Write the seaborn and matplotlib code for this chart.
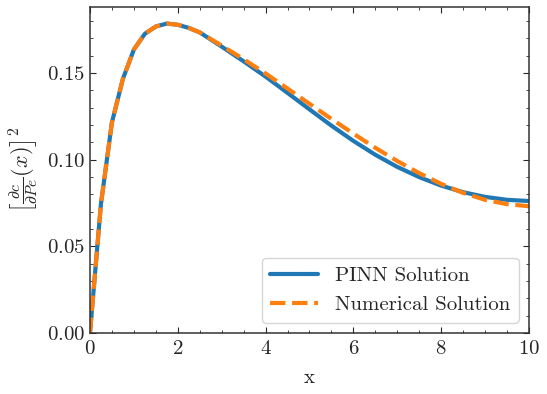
import numpy as np
import pandas as pd
import seaborn as sns
import matplotlib
matplotlib.use("Agg")
import matplotlib.pyplot as plt
from matplotlib.ticker import MultipleLocator

x = [0, 0.25, 0.5, 0.75, 1.0, 1.25, 1.5, 1.75, 2.0, 2.25, 2.5, 3.0, 3.5,
     4.0, 4.5, 5.0, 5.5, 6.0, 6.5, 7.0, 7.5, 8.0, 8.5, 9.0, 9.5, 10.0]
pinn = [0.0, 0.0745, 0.1215, 0.1466, 0.1635, 0.1726, 0.1768, 0.1785, 0.1778,
        0.1760, 0.1734, 0.1652, 0.1567, 0.1479, 0.1385, 0.1290, 0.1196,
        0.1108, 0.1028, 0.0958, 0.0899, 0.0850, 0.0812, 0.0785, 0.0768, 0.0761]
numerical = [0.0, 0.0745, 0.1215, 0.1466, 0.1635, 0.1726, 0.1768, 0.1785, 0.1778,
             0.1760, 0.1734, 0.1658, 0.1579, 0.1497, 0.1410, 0.1322, 0.1235,
             0.1150, 0.1068, 0.0992, 0.0922, 0.0860, 0.0808, 0.0768, 0.0743, 0.0731]

df = pd.DataFrame({"x": x, "PINN Solution": pinn, "Numerical Solution": numerical})

sns.set_style("ticks")
plt.rcParams.update({
    "font.family": "serif",
    "font.serif": ["cmr10"],
    "mathtext.fontset": "cm",
    "axes.formatter.use_mathtext": True,
    "axes.unicode_minus": False,
    "font.size": 15,
    "xtick.direction": "in",
    "ytick.direction": "in",
    "xtick.top": True,
    "ytick.right": True,
    "xtick.minor.visible": True,
    "ytick.minor.visible": True,
    "xtick.major.size": 4.5,
    "ytick.major.size": 4.5,
    "xtick.minor.size": 2.5,
    "ytick.minor.size": 2.5,
    "xtick.major.pad": 5,
    "axes.linewidth": 1.1,
    "axes.edgecolor": "#333333",
})

fig = plt.figure(figsize=(5.47, 3.94), dpi=100)
ax = fig.add_axes([0.1645, 0.155, 0.8025, 0.827])

sns.lineplot(data=df, x="x", y="PINN Solution", color="#1f77b4", lw=3,
             label="PINN Solution", ax=ax)
sns.lineplot(data=df, x="x", y="Numerical Solution", color="#ff7f0e", lw=3,
             linestyle="--", label="Numerical Solution", ax=ax)

ax.set_xlim(0, 10)
ax.set_ylim(0, 0.188)
ax.xaxis.set_major_locator(MultipleLocator(2))
ax.xaxis.set_minor_locator(MultipleLocator(0.5))
ax.yaxis.set_major_locator(MultipleLocator(0.05))
ax.yaxis.set_minor_locator(MultipleLocator(0.01))
ax.set_xlabel("x", labelpad=8)
ax.set_ylabel(r"$\left[\frac{\partial c}{\partial Pe}(x)\right]^2$", fontsize=16)
ax.legend(loc="lower right", fontsize=15, handlelength=2.3)

fig.savefig("out.png", dpi=100)
